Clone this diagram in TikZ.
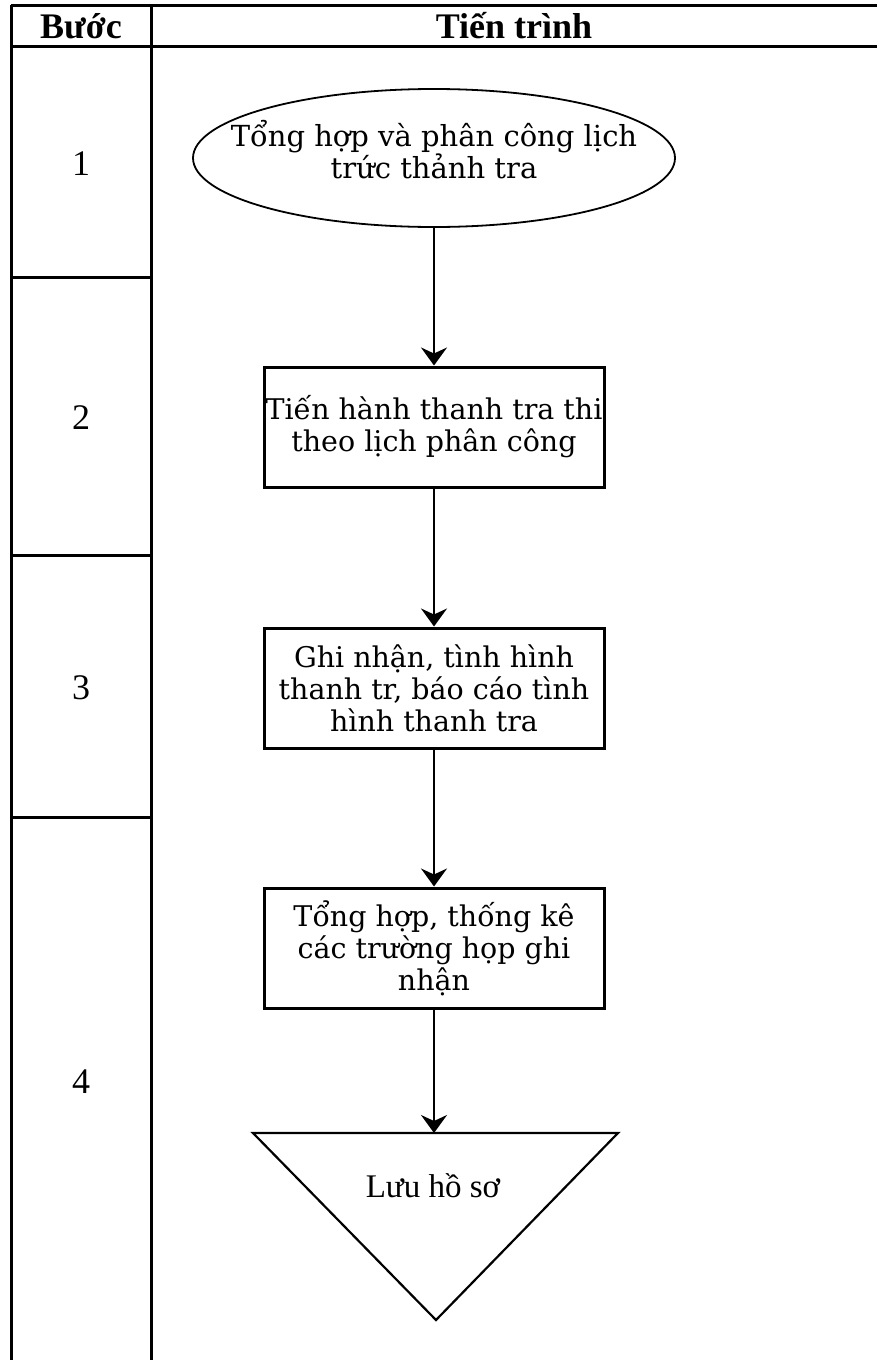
\documentclass[tikz,border=0pt]{standalone}
\usepackage{fontspec}
\setmainfont{Liberation Serif}
\newfontfamily\boxfont{DejaVu Serif}
\usetikzlibrary{arrows.meta,shapes.geometric}

\begin{document}
\begin{tikzpicture}[x=1pt,y=-1pt,
  tline/.style={line width=3pt},
  headtxt/.style={font=\fontsize{36}{40}\selectfont\bfseries},
  numtxt/.style={font=\fontsize{36}{40}\selectfont},
  flowtxt/.style={align=center,font=\boxfont\fontsize{28.5}{32}\selectfont},
  procbox/.style={flowtxt,draw,line width=3pt,minimum width=340pt,minimum height=120pt,
    inner sep=0pt},
  flow/.style={-{Stealth[length=18pt,width=26pt,inset=6pt]},line width=2.2pt}]
\useasboundingbox (0,0) rectangle (877,1360);
%% --- table frame (no right and bottom edge) ---
\draw[tline] (11,5) -- (877,5);
\draw[tline] (11,46) -- (877,46);
\draw[tline] (11,5) -- (11,1360);
\draw[tline] (151,5) -- (151,1360);
\draw[tline] (11,277) -- (151,277);
\draw[tline] (11,555) -- (151,555);
\draw[tline] (11,817) -- (151,817);
\node[headtxt] (hbuoc) at (81,26) {Bước};
\node[headtxt] (htt) at (514,26) {Tiến trình};
\node[numtxt] (n1) at (81,164) {1};
\node[numtxt] (n2) at (81,418) {2};
\node[numtxt] (n3) at (81,688) {3};
\node[numtxt] (n4) at (81,1082) {4};
%% --- flow ---
\node[draw,ellipse,line width=1.8pt,minimum width=482pt,minimum height=138pt,inner sep=0pt] (ell) at (434,158) {};
\node[flowtxt,font=\boxfont\fontsize{29}{32}\selectfont] (elltxt) at (434,150) {Tổng hợp và phân công lịch\\trức thảnh tra};
\node[procbox] (b2) at (434,427) {Tiến hành thanh tra thi\\theo lịch phân công};
\node[procbox] (b3) at (434,688) {Ghi nhận, tình hình\\thanh tr, báo cáo tình\\hình thanh tra};
\node[procbox] (b4) at (434,948) {Tổng hợp, thống kê\\các trường họp ghi\\nhận};
\coordinate (tri) at (436,1133);
\draw[line width=2.2pt,line join=miter] (253,1133) -- (618,1133) -- (436,1320) -- cycle;
\node[font=\fontsize{33}{36}\selectfont] (luu) at (433,1186) {Lưu hồ sơ};
\draw[flow] (ell.south) -- (b2.north);
\draw[flow] (b2) -- (b3);
\draw[flow] (b3) -- (b4);
\draw[flow] (b4.south) -- (b4.south |- tri);
\end{tikzpicture}
\end{document}
